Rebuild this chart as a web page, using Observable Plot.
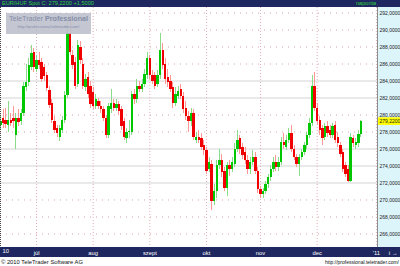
<!DOCTYPE html>
<html><head><meta charset="utf-8">
<script src="https://cdn.jsdelivr.net/npm/d3@7"></script>
<script src="https://cdn.jsdelivr.net/npm/@observablehq/plot@0.6"></script>
<style>
body{margin:0;background:#fff;}
#wrap{position:relative;width:400px;height:266px;overflow:hidden;background:#fff;font-family:"Liberation Sans",Arial,sans-serif;}
#panel{position:absolute;left:377px;top:7px;width:23px;height:240px;background:#dcf5fa;border-left:1px solid #8c8c8c;box-sizing:border-box;}
.bar{position:absolute;left:0;width:400px;background:#1e275f;}
#topbar{top:0;height:7px;}
#botbar{top:247px;height:10px;}
#toptext{position:absolute;left:2px;top:0;font-size:5.6px;line-height:7px;color:#2fd23a;white-space:nowrap;}
#topright{position:absolute;left:356px;top:0;font-size:5.6px;line-height:7px;color:#2fd23a;}
#chart{position:absolute;left:0;top:0;}
#wm{position:absolute;left:6px;top:13px;width:85px;height:21px;background:rgba(188,190,204,0.88);text-align:center;}
#wm .t{font-size:7.2px;line-height:10px;color:#858ea8;padding-top:1px;white-space:nowrap;}
#wm .u{font-size:4.2px;line-height:6px;color:#858ea8;white-space:nowrap;}
#footl{position:absolute;left:1px;top:258px;font-size:5.8px;line-height:8px;color:#111;white-space:nowrap;}
#footr{position:absolute;right:1px;top:258px;font-size:5px;line-height:8px;color:#111;white-space:nowrap;}
</style></head>
<body>
<div id="wrap">
  <div id="panel"></div>
  <div class="bar" id="topbar"></div>
  <div class="bar" id="botbar"></div>
  <div id="toptext">EUR/HUF Spot C: 279,2200 +1,5000</div>
  <div id="topright">naponta</div>
  <div id="chart"></div>
  <div id="wm"><div class="t">TeleTrader <b>Professional</b></div><div class="u">http://professional.teletrader.com/</div></div>
  <div id="footl">© 2010 TeleTrader Software AG</div>
  <div id="footr">http://professional.teletrader.com/</div>
</div>
<script>
// Daily EUR/HUF candles, mid-June 2010 to late December 2010 (one entry per trading day)
const opens = [278.8,279.6,279.4,278.8,279.4,279.6,277.6,279.6,279.2,280.2,283.2,283.8,285.6,287.4,285.4,286.4,286.2,285.6,284.6,282.9,
281.4,279.2,278.4,277.4,278.2,279.4,282.3,289.6,287.0,286.2,283.6,288.0,286.0,283.2,284.4,283.4,282.6,281.0,281.6,281.0,
280.6,279.6,277.6,280.6,281.4,280.8,281.2,280.6,279.2,277.2,278.0,278.0,282.4,281.8,283.4,283.0,283.6,284.6,286.6,284.6,
284.6,283.6,284.6,287.6,286.0,284.4,284.0,283.2,281.4,282.2,283.0,282.2,280.8,279.8,279.2,280.2,277.0,277.4,277.2,276.4,
275.8,273.6,274.2,269.8,271.0,274.0,274.6,273.4,271.4,274.0,273.6,274.2,276.0,277.2,276.2,275.6,274.6,273.6,274.4,275.0,
273.4,271.2,270.6,271.0,271.8,272.6,273.6,274.4,273.8,274.4,276.8,276.2,277.0,277.8,276.0,275.0,274.2,275.0,275.6,276.4,
277.6,279.0,283.4,280.8,279.4,278.4,277.4,278.6,278.2,277.6,278.8,277.4,276.4,275.6,274.0,273.6,272.2,277.2,276.4,276.6,
277.72];
const highs = [279.8,280.6,280.8,281.6,280.2,281.0,280.2,280.6,280.6,283.8,286.0,286.6,288.2,287.8,287.0,287.4,286.6,286.0,285.0,283.4,
281.8,279.8,278.8,278.8,279.8,282.8,291.2,291.6,287.6,286.8,288.8,288.6,286.6,284.8,285.0,284.0,283.2,282.4,282.0,281.6,
281.0,280.0,281.4,283.0,281.8,281.8,281.6,281.0,279.6,278.4,279.4,282.8,283.0,284.2,284.0,284.2,285.4,287.4,287.0,285.2,
285.0,285.2,289.6,288.4,286.6,285.4,284.6,283.8,283.2,283.4,283.6,282.6,281.6,280.4,280.8,280.6,278.0,278.2,277.8,277.0,
276.2,275.0,274.6,271.8,274.6,276.0,275.4,273.8,274.4,274.6,275.0,276.6,278.2,277.6,276.6,276.2,275.2,275.0,275.8,275.6,
273.8,271.6,271.4,272.2,273.0,274.0,275.0,275.2,275.0,277.4,277.8,277.6,278.4,278.8,276.4,275.4,275.4,276.0,276.8,278.0,
279.6,284.6,285.0,281.4,279.8,278.8,279.0,279.2,278.8,279.0,279.2,278.0,276.8,276.0,274.4,274.0,277.8,277.6,277.2,278.2,
279.4];
const lows = [278.2,278.4,278.4,278.0,278.6,278.4,276.0,278.6,278.8,279.8,282.8,283.4,285.2,285.0,285.0,285.4,283.8,284.0,282.8,280.8,
279.0,277.8,277.4,276.9,277.8,279.0,282.0,287.0,285.4,283.0,283.2,286.0,283.0,282.8,282.0,280.8,280.6,280.6,280.6,280.2,
279.2,277.2,277.2,280.2,280.4,280.4,280.0,278.2,277.0,276.6,277.2,277.6,281.2,281.4,282.6,282.6,283.2,284.2,284.2,283.6,
283.0,283.2,284.2,285.4,283.6,283.2,282.6,280.8,281.0,281.8,281.8,280.2,279.4,278.0,278.6,277.0,276.6,276.6,275.8,275.2,
273.0,273.2,268.8,269.4,270.2,273.6,272.6,271.0,270.4,272.8,273.2,273.8,275.6,275.4,274.8,274.2,273.0,273.0,274.0,273.0,
270.8,270.2,270.2,270.6,271.4,272.2,273.2,273.4,273.4,274.0,276.0,275.8,276.6,275.6,274.6,273.8,272.8,274.6,275.2,276.0,
277.2,278.6,280.4,278.8,277.6,276.4,277.0,277.4,277.2,277.2,276.6,276.2,275.0,273.2,272.6,272.0,272.0,276.2,276.0,276.2,
277.4];
const closes = [279.2,279.0,278.9,279.3,279.0,279.2,279.6,279.1,280.2,283.4,283.8,285.8,287.2,285.6,286.4,285.8,284.2,284.5,283.1,281.1,
279.4,278.2,277.8,278.4,279.4,282.3,289.6,287.4,285.8,283.4,288.2,286.4,283.4,284.2,282.4,281.2,281.0,281.8,281.0,280.6,
279.6,277.6,281.0,281.4,280.8,281.2,280.4,278.6,277.4,278.0,278.1,282.4,281.8,283.4,283.0,283.6,284.8,286.6,284.6,284.0,
283.4,284.6,287.6,285.8,284.2,283.8,283.0,281.4,282.4,282.8,282.2,280.6,279.8,279.2,280.2,277.4,277.4,277.0,276.2,275.8,
273.4,274.4,269.8,271.0,274.0,274.6,273.2,271.4,274.0,273.6,274.4,276.0,277.0,276.0,275.2,274.6,273.6,274.4,275.0,273.4,
271.2,270.6,271.0,271.8,272.6,273.6,274.4,273.8,274.4,276.8,276.4,277.0,277.8,276.0,275.0,274.2,275.0,275.6,276.4,277.6,
279.0,283.4,280.8,279.2,278.2,277.2,278.6,277.8,277.6,278.6,277.0,276.6,275.3,273.6,273.0,272.2,277.4,276.6,276.8,277.72,
279.22];

// first trading day of each month, counted from the first candle
const monthTickIdx = [14, 36, 58, 80, 101, 123, 146];
const monthLabels = ["júl", "aug", "szept", "okt", "nov", "dec", "'11"];
const yearLabel = "10";
const yTicks = [266,268,270,272,274,276,278,280,282,284,286,288,290,292];
const solidGrid = [272, 274, 276, 282, 284];
const dottedGrid = [266, 268, 270, 278, 280, 286, 288, 290, 292];
const lastPrice = 279.22;

const candles = closes.map((c, i) => ({i, open: opens[i], high: highs[i], low: lows[i], close: c}));
const up = d => d.close >= d.open;
const fmt = v => v.toFixed(4).replace(".", ",");
const labelOf = new Map(monthTickIdx.map((t, k) => [t, monthLabels[k]]));
const xMax = 146.43;

const chart = Plot.plot({
  width: 400, height: 257,
  marginTop: 7, marginBottom: 10, marginLeft: 0, marginRight: 23,
  style: {background: "transparent", fontFamily: "Liberation Sans, Arial, sans-serif"},
  x: {domain: [0, xMax], axis: null},
  y: {domain: [264.41, 292.65], axis: null},
  marks: [
    Plot.ruleY(solidGrid, {stroke: "#d4d4d4", strokeWidth: 1}),
    Plot.ruleY(dottedGrid, {stroke: "#d7a4ad", strokeWidth: 1, strokeDasharray: "1,5"}),
    Plot.ruleX(monthTickIdx.filter(t => t < xMax), {stroke: "#e3aeb8", strokeWidth: 1, strokeDasharray: "1,2"}),
    Plot.ruleX(candles, {x: "i", y1: "low", y2: "high", stroke: d => up(d) ? "#8adb8a" : "#ff9696", strokeWidth: 1, shapeRendering: "crispEdges"}),
    Plot.ruleX(candles, {x: "i", y1: "open", y2: "close", stroke: d => up(d) ? "#00c800" : "#f00000", strokeWidth: 2.4, shapeRendering: "crispEdges"}),
    Plot.axisY(yTicks, {anchor: "right", tickSize: 0, tickPadding: 2, tickFormat: fmt, fontSize: 5, fill: "#1a1a1a"}),
    Plot.rect([lastPrice], {x1: () => xMax, x2: () => xMax + 9, y1: d => d - 0.45, y2: d => d + 0.45, fill: "#ffff00", insetLeft: 1}),
    Plot.text([lastPrice], {y: d => d, frameAnchor: "right", dx: 2, textAnchor: "start", text: fmt, fontSize: 5, fill: "#1a1a1a"}),
    Plot.axisX(monthTickIdx, {anchor: "bottom", tickSize: 0, tickPadding: 3, tickFormat: d => labelOf.get(d), fontSize: 5.8, fill: "#ffffff"}),
    Plot.text([yearLabel], {x: () => 0, frameAnchor: "bottom", dx: 2, dy: 5, textAnchor: "start", text: d => d, fontSize: 5.8, fill: "#ffffff"}),
    Plot.ruleX([0], {stroke: "#444", strokeDasharray: "1,1"})
  ]
});
document.getElementById("chart").appendChild(chart);
</script>
</body></html>
